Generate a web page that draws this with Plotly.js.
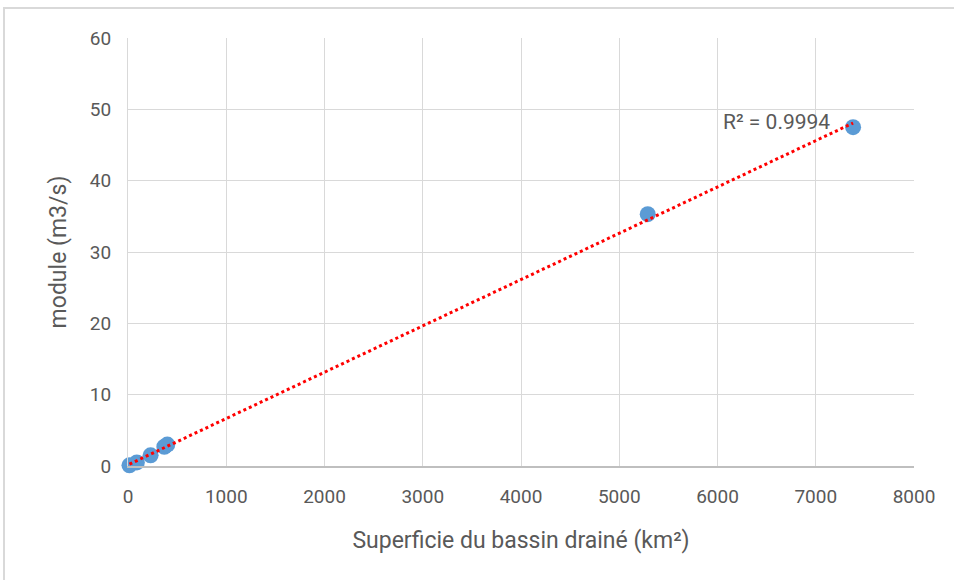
<!DOCTYPE html>
<html><head><meta charset="utf-8">
<script src="https://cdn.plot.ly/plotly-3.0.1.min.js"></script>
<style>
html,body{margin:0;padding:0;background:#fff;}
#wrap{position:relative;width:954px;height:580px;overflow:hidden;}
#plot{position:absolute;left:0;top:0;width:954px;height:580px;}
#border{position:absolute;left:3px;top:7px;width:1000px;height:700px;border:2px solid #d9d9d9;pointer-events:none;}
</style></head>
<body><div id="wrap"><div id="plot"></div><div id="border"></div></div>
<script>
const superficie = [15, 90, 230, 370, 400, 5290, 7380];
const module_ = [0.1, 0.5, 1.5, 2.7, 3.0, 35.3, 47.5];
const xTicks = [0,1000,2000,3000,4000,5000,6000,7000,8000];
const yTicks = [0,10,20,30,40,50,60];
const r2Label = "R² = 0.9994";

// linear least-squares trendline
const n = superficie.length;
const mx = superficie.reduce((a,b)=>a+b,0)/n;
const my = module_.reduce((a,b)=>a+b,0)/n;
let sxy=0,sxx=0;
for(let i=0;i<n;i++){sxy+=(superficie[i]-mx)*(module_[i]-my);sxx+=(superficie[i]-mx)**2;}
const slope=sxy/sxx, intercept=my-slope*mx;
const xmin=Math.min(...superficie), xmax=Math.max(...superficie);
const trendX=[xmin,xmax], trendY=[intercept+slope*xmin, intercept+slope*xmax];

const font = "Roboto, sans-serif";
const data = [
 {x: superficie, y: module_, mode:'markers', type:'scatter', cliponaxis:false,
  marker:{color:'#5b9bd5', size:16}, hoverinfo:'x+y'},
 {x: trendX, y: trendY, mode:'lines', type:'scatter', cliponaxis:false,
  line:{color:'#ff0000', width:3, dash:'dot'}}
];
const layout = {
 width:954, height:580, showlegend:false,
 paper_bgcolor:'rgba(0,0,0,0)', plot_bgcolor:'#fff',
 margin:{l:128, r:40, t:38, b:114},
 font:{family:font, color:'#595959', size:19},
 xaxis:{range:[0,8000], tickvals:xTicks, showgrid:true, gridcolor:'#d9d9d9', gridwidth:1,
   zeroline:false, showline:true, linecolor:'#bfbfbf', linewidth:2, ticks:'', ticklabelstandoff:12,
   title:{text:'Superficie du bassin drainé (km²)', font:{size:23, color:'#595959'}, standoff:25}},
 yaxis:{range:[0,60], tickvals:yTicks, showgrid:true, gridcolor:'#d9d9d9', gridwidth:1,
   zeroline:false, showline:true, linecolor:'#d9d9d9', linewidth:1, ticks:'', ticklabelstandoff:12,
   title:{text:'module (m3/s)', font:{size:23, color:'#595959'}, standoff:16}},
 annotations:[{x:7165, y:48.2, xref:'x', yref:'y', text:r2Label, showarrow:false,
   xanchor:'right', yanchor:'middle', font:{size:21, color:'#595959', family:font}}]
};
Plotly.newPlot('plot', data, layout, {displayModeBar:false, staticPlot:true});
</script></body></html>
